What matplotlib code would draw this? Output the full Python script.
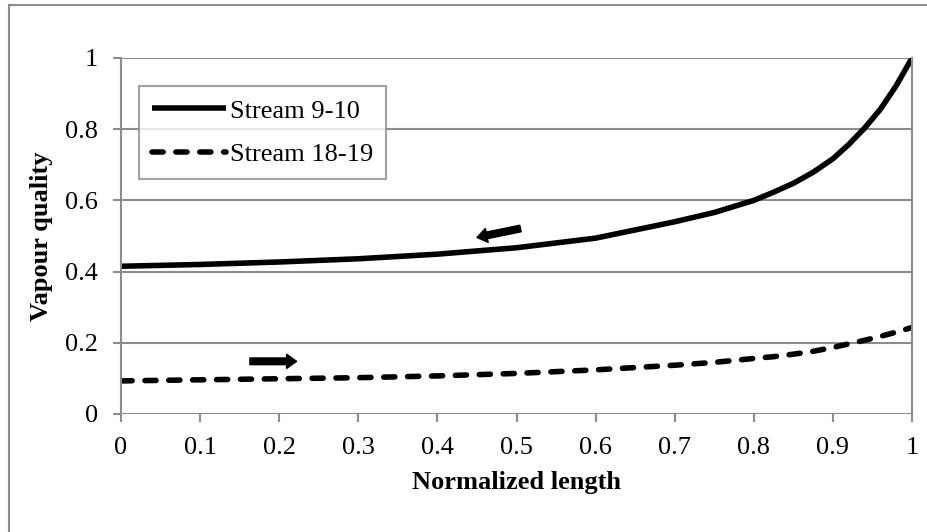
import matplotlib.pyplot as plt
from matplotlib.lines import Line2D
import numpy as np

plt.rcParams["font.family"] = ["Liberation Serif", "DejaVu Serif"]

# Données
length = [0, 0.1, 0.2, 0.3, 0.4, 0.5, 0.6, 0.7, 0.75, 0.8, 0.825, 0.85, 0.875,
          0.9, 0.92, 0.94, 0.96, 0.98, 1.0]
stream_9_10 = [0.415, 0.420, 0.427, 0.436, 0.449, 0.467, 0.494, 0.540, 0.566,
               0.600, 0.623, 0.648, 0.679, 0.717, 0.757, 0.803, 0.856, 0.922, 1.0]
stream_18_19 = [0.093, 0.096, 0.099, 0.102, 0.107, 0.114, 0.124, 0.137, 0.145,
                0.156, 0.161, 0.168, 0.176, 0.187, 0.197, 0.207, 0.218, 0.230, 0.243]
x_ticks = [0, 0.1, 0.2, 0.3, 0.4, 0.5, 0.6, 0.7, 0.8, 0.9, 1]
y_ticks = [0, 0.2, 0.4, 0.6, 0.8, 1]
labels = ["Stream 9-10", "Stream 18-19"]

grey = "#8c8c8c"
fs = 19

fig = plt.figure(figsize=(9.27, 5.32), dpi=100)
ax = fig.add_axes([121 / 927, 1 - 414 / 532, 791 / 927, 356 / 532])

ax.plot(length, stream_9_10, color="black", lw=4, label=labels[0],
        solid_capstyle="butt", solid_joinstyle="round")
ax.plot(length, stream_18_19, color="black", lw=4, ls=(0, (2.0, 2.3)),
        label=labels[1], dash_capstyle="round")

# Flèches indiquant le sens d'écoulement
arrow = dict(arrowstyle="simple,tail_width=0.4,head_width=0.85,head_length=0.6",
             fc="black", ec="black", mutation_scale=12, shrinkA=0, shrinkB=0)
ax.annotate("", xy=(0.45, 0.496), xytext=(0.505, 0.521), arrowprops=arrow)
ax.annotate("", xy=(0.222, 0.148), xytext=(0.163, 0.148), arrowprops=arrow)

ax.set_xlim(0, 1)
ax.set_ylim(0, 1)
ax.set_xticks(x_ticks)
ax.set_xticklabels([f"{v:g}" for v in x_ticks])
ax.set_yticks(y_ticks)
ax.set_yticklabels([f"{v:g}" for v in y_ticks])
ax.tick_params(axis="both", labelsize=fs, color=grey, width=1.5, length=5.8,
               direction="out", pad=11)
ax.grid(axis="y", color=grey, lw=1.5)
ax.set_axisbelow(True)
for side in ["top", "bottom"]:
    ax.spines[side].set_visible(False)
for side in ["left", "right"]:
    ax.spines[side].set_color(grey)
    ax.spines[side].set_linewidth(1.5)

ax.set_xlabel("Normalized length", fontsize=fs, fontweight="bold", labelpad=8.5)
ax.set_ylabel("Vapour quality", fontsize=fs, fontweight="bold", labelpad=8.5)

leg = ax.legend(loc="upper left", bbox_to_anchor=(18 / 791, 1 - 28 / 356),
                fontsize=fs, frameon=True, fancybox=False, handlelength=2.8,
                handletextpad=0.15, borderpad=0.5, labelspacing=0.75,
                borderaxespad=0)
leg.get_frame().set_edgecolor(grey)
leg.get_frame().set_linewidth(1.5)

# Cadre extérieur (haut et gauche seulement)
fig.add_artist(Line2D([9 / 927, 1], [1 - 5 / 532] * 2, color=grey, lw=1.5))
fig.add_artist(Line2D([9 / 927] * 2, [0, 1 - 5 / 532], color=grey, lw=1.5))

plt.savefig("out.png", dpi=100)
